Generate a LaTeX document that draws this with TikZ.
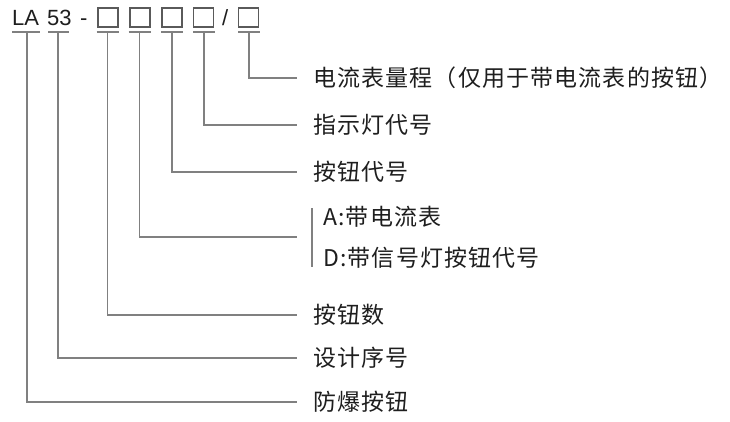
\documentclass[tikz,border=0pt]{standalone}
\usepackage{fontspec}
\setmainfont{Liberation Sans}
\newfontfamily\cjk[LetterSpace=5]{Noto Sans CJK SC}
\newfontfamily\codefont{Liberation Sans}
\definecolor{txt}{HTML}{1E1E1E}
\definecolor{ln}{HTML}{808080}
\definecolor{bx}{HTML}{5A5A5A}
\begin{document}
\begin{tikzpicture}[x=1pt,y=-1pt,
  conn/.style={draw=ln,line width=1.1pt},
  uline/.style={draw=ln,line width=1.1pt},
  codebox/.style={draw=bx,line width=1.1pt,minimum width=20pt,minimum height=19pt,inner sep=0pt},
  codetxt/.style={inner sep=0pt,anchor=base west,text=txt,font=\codefont\fontsize{22}{26}\selectfont},
  lab/.style={inner sep=0pt,anchor=west,text=txt,font=\cjk\fontsize{23}{28}\selectfont}]
\useasboundingbox (0,0) rectangle (730,421);
% top code
\node[codetxt] (la) at (12,25) {LA};
\node[codetxt] (n53) at (47,25) {53};
\node[codetxt] (dash) at (80,25) {-};
\node[codebox] (b1) at (108,17.5) {};
\node[codebox] (b2) at (140,17.5) {};
\node[codebox] (b3) at (172,17.5) {};
\node[codebox] (b4) at (203.5,17.5) {};
\node[codetxt] (sl) at (222,25) {/};
\node[codebox] (b5) at (248.5,17.5) {};
% underline anchor points
\coordinate (ula) at (27,32);
\coordinate (u53) at (58,32);
\coordinate (u1) at (107.5,32);
\coordinate (u2) at (139.5,32);
\coordinate (u3) at (172,32);
\coordinate (u4) at (204,32);
\coordinate (u5) at (249,32);
\draw[uline] ([xshift=-15pt]ula) -- ([xshift=13pt]ula);
\draw[uline] ([xshift=-10pt]u53) -- ([xshift=11pt]u53);
\foreach \u in {u1,u2,u3,u4,u5}{\draw[uline] ([xshift=-11pt]\u) -- ([xshift=11pt]\u);}
% labels
\node[lab] (l5) at (313,78) {电流表量程（仅用于带电流表的按钮）};
\node[lab] (l4) at (313,125) {指示灯代号};
\node[lab] (l3) at (313,172) {按钮代号};
\node[lab] (lA) at (323,217) {A:带电流表};
\node[lab] (lD) at (323,258) {D:带信号灯按钮代号};
\node[lab] (l1) at (313,315) {按钮数};
\node[lab] (l53) at (313,358) {设计序号};
\node[lab] (lla) at (313,402) {防爆按钮};
% bracket bar
\coordinate (bt) at (312,208);
\coordinate (bb) at (312,267);
\draw[conn] (bt) -- (bb);
\coordinate (bm) at (297,237);
% connectors
\draw[conn] (u5) |- ([xshift=-16pt]l5.west);
\draw[conn] (u4) |- ([xshift=-16pt]l4.west);
\draw[conn] (u3) |- ([xshift=-16pt]l3.west);
\draw[conn] (u2) |- (bm);
\draw[conn] (u1) |- ([xshift=-16pt]l1.west);
\draw[conn] (u53) |- ([xshift=-16pt]l53.west);
\draw[conn] (ula) |- ([xshift=-16pt]lla.west);
\end{tikzpicture}
\end{document}
